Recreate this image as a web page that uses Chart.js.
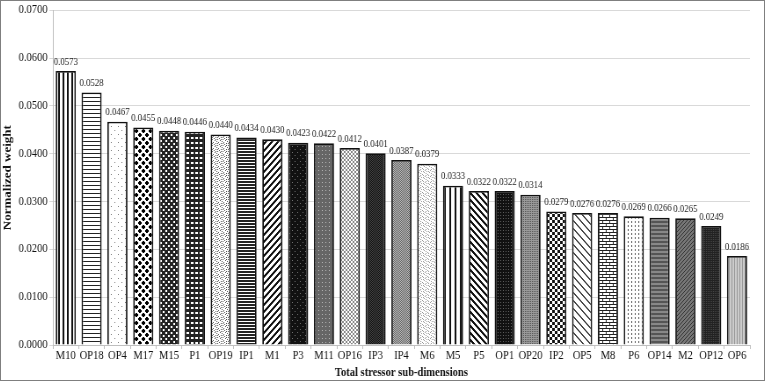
<!DOCTYPE html>
<html><head><meta charset="utf-8">
<script src="https://cdn.jsdelivr.net/npm/chart.js@4/dist/chart.umd.min.js"></script>
<style>
html,body{margin:0;padding:0;background:#fff;}
#wrap{position:relative;width:765px;height:381px;box-sizing:border-box;border:1px solid #7f7f7f;overflow:hidden;}
#c{display:block;width:763px;height:379px;}
</style></head>
<body><div id="wrap"><canvas id="c" width="868" height="379" style="width:763px;height:379px;"></canvas></div>
<script>
const categories = ["M10","OP18","OP4","M17","M15","P1","OP19","IP1","M1","P3","M11","OP16","IP3","IP4","M6","M5","P5","OP1","OP20","IP2","OP5","M8","P6","OP14","M2","OP12","OP6"];
const weights = [0.0573,0.0528,0.0467,0.0455,0.0448,0.0446,0.0440,0.0434,0.0430,0.0423,0.0422,0.0412,0.0401,0.0387,0.0379,0.0333,0.0322,0.0322,0.0314,0.0279,0.0276,0.0276,0.0269,0.0266,0.0265,0.0249,0.0186];
const yTicks = [0,0.01,0.02,0.03,0.04,0.05,0.06,0.07];
const xTitle = "Total stressor sub-dimensions";
const yTitle = "Normalized weight";

function tile(w,h,bg,draw){
  const cv=document.createElement('canvas');cv.width=w;cv.height=h;
  const g=cv.getContext('2d');g.fillStyle=bg;g.fillRect(0,0,w,h);draw(g);
  return g.createPattern(cv,'repeat');
}
function px(g,c,list){g.fillStyle=c;list.forEach(p=>g.fillRect(p[0],p[1],p[2]||1,p[3]||1));}
function diag(g,c,w,h,up,thick){g.fillStyle=c;for(let i=0;i<w;i++){for(let t=0;t<thick;t++){const y=up?(h-1-i+t+h)%h:(i+t)%h;g.fillRect(i,y,1,1);}}}
const patterns = [
  tile(5,1,'#fff',g=>px(g,'#111',[[0,0,2,1]])),                  // M10
  tile(1,4,'#fff',g=>px(g,'#222',[[0,0,1,1]])),                  // OP18
  tile(8,8,'#fff',g=>px(g,'#777',[[1,1],[5,5]])),                // OP4
  tile(8,8,'#fff',g=>px(g,'#000',[[1,0,2,4],[0,1,4,2],[5,4,2,4],[4,5,4,2]])), // M17
  tile(6,6,'#222',g=>px(g,'#fff',[[1,1,2,2],[4,4,2,2]])),        // M15
  tile(5,5,'#222',g=>px(g,'#fff',[[1,1,3,2]])),                  // P1
  tile(6,6,'#fff',g=>px(g,'#555',[[0,0],[3,1],[1,3],[4,4],[2,5],[5,2],[0,4],[4,0]])), // OP19
  tile(1,3,'#fff',g=>px(g,'#222',[[0,0,1,2]])),                  // IP1
  tile(7,7,'#fff',g=>diag(g,'#111',7,7,true,3)),                 // M1
  tile(6,6,'#111',g=>px(g,'#777',[[1,1],[4,4]])),                // P3
  tile(4,4,'#666',g=>px(g,'#bbb',[[1,1]])),                      // M11
  tile(4,4,'#fff',g=>px(g,'#888',[[0,0,2,2],[2,2,2,2]])),        // OP16
  tile(2,2,'#444',g=>px(g,'#111',[[0,0],[1,1]])),                // IP3
  tile(2,2,'#bbb',g=>px(g,'#666',[[0,0],[1,1]])),                // IP4
  tile(6,6,'#fff',g=>px(g,'#999',[[0,0],[2,1],[4,2],[1,3],[3,4],[5,5],[0,2],[3,0]])), // M6
  tile(6,1,'#fff',g=>px(g,'#111',[[0,0,2,1]])),                  // M5
  tile(7,7,'#fff',g=>diag(g,'#111',7,7,false,3)),                // P5
  tile(3,3,'#111',g=>px(g,'#666',[[1,1]])),                      // OP1
  tile(2,2,'#999',g=>px(g,'#555',[[0,0]])),                      // OP20
  tile(6,6,'#fff',g=>px(g,'#111',[[0,0,3,3],[3,3,3,3]])),        // IP2
  tile(8,8,'#fff',g=>{diag(g,'#444',8,8,false,2);}),             // OP5
  tile(8,6,'#fff',g=>px(g,'#222',[[0,0,8,1],[0,3,8,1],[0,0,1,3],[4,3,1,3]])), // M8
  tile(4,4,'#fff',g=>px(g,'#555',[[1,0,1,2]])),                  // P6
  tile(1,4,'#888',g=>px(g,'#555',[[0,0,1,2]])),                  // OP14
  tile(4,4,'#777',g=>diag(g,'#333',4,4,true,1)),                 // M2
  tile(2,2,'#222',g=>px(g,'#444',[[0,0]])),                      // OP12
  tile(3,1,'#ccc',g=>px(g,'#999',[[0,0]]))                       // OP6
];

const valueLabels = {
  id:'valueLabels',
  afterDatasetsDraw(chart){
    const ctx=chart.ctx; const meta=chart.getDatasetMeta(0);
    ctx.save();ctx.font='10px "Liberation Serif"';ctx.fillStyle='#222';ctx.textAlign='center';ctx.textBaseline='bottom';
    meta.data.forEach((b,i)=>{ctx.fillText(weights[i].toFixed(4),b.x,b.y-4);});
    ctx.restore();
  }
};

new Chart(document.getElementById('c'),{
  type:'bar',
  data:{labels:categories,datasets:[{data:weights,backgroundColor:patterns,borderColor:'#111',borderWidth:1.8,categoryPercentage:0.78,barPercentage:1}]},
  options:{
    responsive:false,animation:false,devicePixelRatio:1,
    layout:{padding:{left:0,top:9,right:16,bottom:0}},
    plugins:{legend:{display:false},tooltip:{enabled:false}},
    scales:{
      x:{
        grid:{offset:true,drawOnChartArea:false,drawTicks:true,tickLength:4,color:'#bfbfbf'},
        border:{color:'#bfbfbf'},
        ticks:{color:'#111',font:{family:'"Liberation Serif"',size:12},maxRotation:0,autoSkip:false,padding:0},
        title:{display:true,text:xTitle,color:'#111',font:{family:'"Liberation Serif"',size:12,weight:'bold'},padding:{top:2,bottom:0}},
        afterFit(s){s.height=35;}
      },
      y:{
        min:0,max:0.07,
        afterBuildTicks(s){s.ticks=yTicks.map(v=>({value:v}));},
        grid:{color:'#d9d9d9',tickLength:4,drawTicks:true},
        border:{color:'#bfbfbf'},
        ticks:{color:'#111',font:{family:'"Liberation Serif"',size:12},padding:2,callback:v=>Number(v).toFixed(4)},
        title:{display:true,text:yTitle,color:'#111',font:{family:'"Liberation Serif"',size:13,weight:'bold'},padding:{top:0,bottom:2}},
        afterFit(s){s.width=59;}
      }
    }
  },
  plugins:[valueLabels]
});
</script></body></html>
